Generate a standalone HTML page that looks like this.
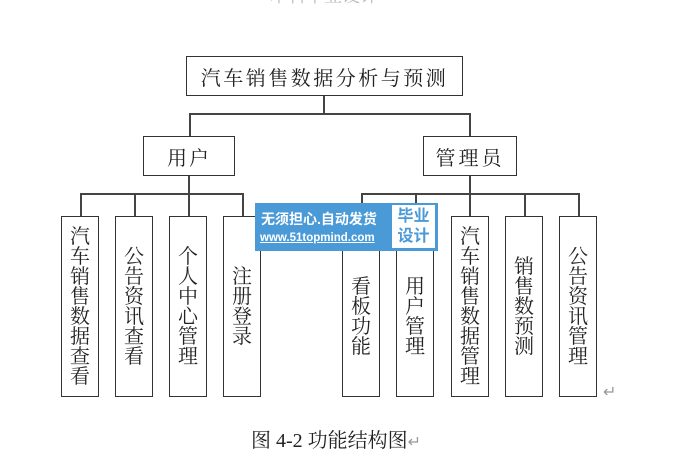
<!DOCTYPE html>
<html><head><meta charset="utf-8"><style>
body{margin:0;width:694px;height:456px;background:#fff;position:relative;overflow:hidden;font-family:"Liberation Serif","Noto Serif CJK SC","Noto Sans CJK SC",serif;color:#222}
.b{position:absolute;border:1.5px solid #333;box-sizing:border-box;background:#fff;display:flex;align-items:center;justify-content:center}
.v{flex-direction:column;font-size:20px;line-height:20px}
.l{position:absolute;background:#444}
</style></head><body>
<div style="position:absolute;left:270px;top:-18px;font-size:18px;color:#bbb">本科毕业设计</div>
<div class="b" style="left:186px;top:56px;width:277px;height:40px;font-size:20px;letter-spacing:2.5px">汽车销售数据分析与预测</div>
<div class="l" style="left:323px;top:96px;width:1.5px;height:18px"></div>
<div class="l" style="left:189px;top:113px;width:282px;height:1.5px"></div>
<div class="l" style="left:189px;top:113px;width:1.5px;height:23px"></div>
<div class="l" style="left:469px;top:113px;width:1.5px;height:23px"></div>
<div class="b" style="left:143px;top:136px;width:92px;height:40px;font-size:20px;letter-spacing:2px">用户</div>
<div class="b" style="left:423px;top:136px;width:94px;height:40px;font-size:20px;letter-spacing:3px">管理员</div>
<div class="l" style="left:188px;top:176px;width:1.5px;height:40px"></div>
<div class="l" style="left:469px;top:176px;width:1.5px;height:40px"></div>
<div class="l" style="left:80px;top:193px;width:163px;height:1.5px"></div>
<div class="l" style="left:361px;top:193px;width:218px;height:1.5px"></div>
<div class="l" style="left:80px;top:193px;width:1.5px;height:23px"></div>
<div class="l" style="left:134px;top:193px;width:1.5px;height:23px"></div>
<div class="l" style="left:242px;top:193px;width:1.5px;height:23px"></div>
<div class="l" style="left:361px;top:193px;width:1.5px;height:23px"></div>
<div class="l" style="left:415px;top:193px;width:1.5px;height:23px"></div>
<div class="l" style="left:524px;top:193px;width:1.5px;height:23px"></div>
<div class="l" style="left:578px;top:193px;width:1.5px;height:23px"></div>
<div class="b v" style="left:61px;top:216px;width:38px;height:181px"><span>汽</span><span>车</span><span>销</span><span>售</span><span>数</span><span>据</span><span>查</span><span>看</span></div>
<div class="b v" style="left:115px;top:216px;width:38px;height:181px"><span>公</span><span>告</span><span>资</span><span>讯</span><span>查</span><span>看</span></div>
<div class="b v" style="left:169px;top:216px;width:38px;height:181px"><span>个</span><span>人</span><span>中</span><span>心</span><span>管</span><span>理</span></div>
<div class="b v" style="left:223px;top:216px;width:38px;height:181px"><span>注</span><span>册</span><span>登</span><span>录</span></div>
<div class="b v" style="left:342px;top:216px;width:38px;height:181px;padding-top:20px"><span>看</span><span>板</span><span>功</span><span>能</span></div>
<div class="b v" style="left:396px;top:216px;width:38px;height:181px;padding-top:20px"><span>用</span><span>户</span><span>管</span><span>理</span></div>
<div class="b v" style="left:451px;top:216px;width:38px;height:181px"><span>汽</span><span>车</span><span>销</span><span>售</span><span>数</span><span>据</span><span>管</span><span>理</span></div>
<div class="b v" style="left:505px;top:216px;width:38px;height:181px"><span>销</span><span>售</span><span>数</span><span>预</span><span>测</span></div>
<div class="b v" style="left:559px;top:216px;width:38px;height:181px"><span>公</span><span>告</span><span>资</span><span>讯</span><span>管</span><span>理</span></div>
<div style="position:absolute;left:603px;top:382px;font-size:16px;color:#999">↵</div>
<div style="position:absolute;left:255px;top:203px;width:183px;height:48px;background:#4a9ad8;font-family:'Liberation Sans','Noto Sans CJK SC',sans-serif;color:#fff">
<div style="position:absolute;left:6px;top:6px;font-size:14px;font-weight:bold">无须担心.自动发货</div>
<div style="position:absolute;left:5px;top:29px;font-size:11.5px;font-weight:bold;text-decoration:underline">www.51topmind.com</div>
<div style="position:absolute;left:137px;top:2px;width:43px;height:43px;background:#fff;color:#4a9ad8;font-size:16px;font-weight:bold;line-height:20px;text-align:center;padding-top:2px;box-sizing:border-box">毕业<br>设计</div>
</div>
<div style="position:absolute;left:251px;top:424px;font-size:20px;color:#222">图 4-2 功能结构图<span style="color:#999;font-size:16px">↵</span></div>
</body></html>
